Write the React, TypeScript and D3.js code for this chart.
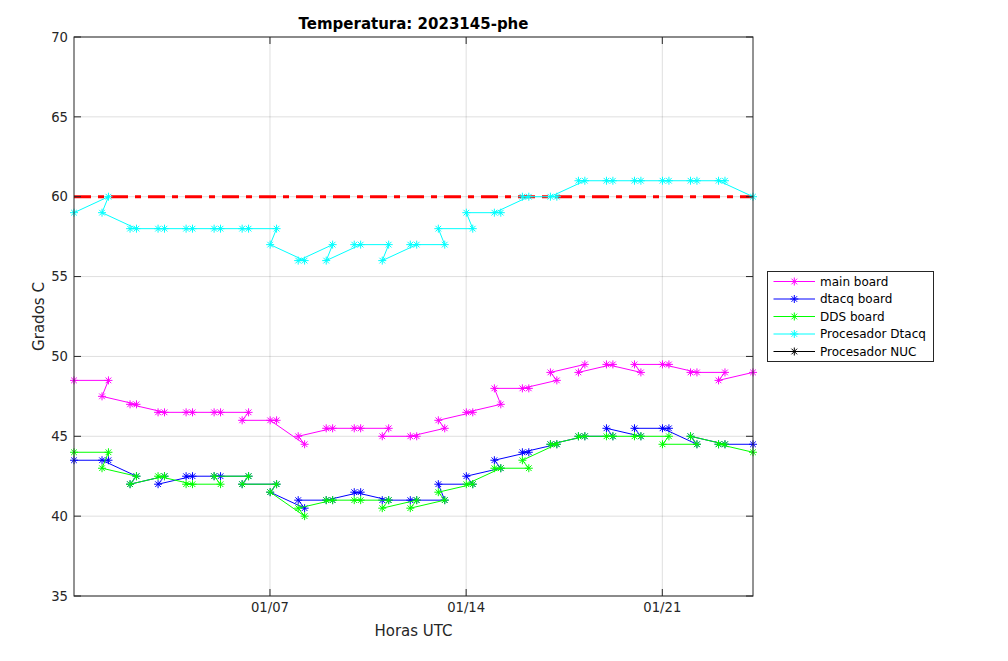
import React from "react";
import * as d3 from "d3";

// Sample timestamps (UTC), in the order they were recorded in the file
const times = [
  "2023-12-31 00:10",
  "2024-01-01 05:40", "2024-01-01 00:10",
  "2024-01-02 05:40", "2024-01-02 00:10",
  "2024-01-03 05:40", "2024-01-03 00:10",
  "2024-01-04 05:40", "2024-01-04 00:10",
  "2024-01-05 05:40", "2024-01-05 00:10",
  "2024-01-06 05:40", "2024-01-06 00:10",
  "2024-01-07 05:40", "2024-01-07 00:10",
  "2024-01-08 05:40", "2024-01-08 00:10",
  "2024-01-09 05:40", "2024-01-09 00:10",
  "2024-01-10 05:40", "2024-01-10 00:10",
  "2024-01-11 05:40", "2024-01-11 00:10",
  "2024-01-12 05:40", "2024-01-12 00:10",
  "2024-01-13 05:40", "2024-01-13 00:10",
  "2024-01-14 05:40", "2024-01-14 00:10",
  "2024-01-15 05:40", "2024-01-15 00:10",
  "2024-01-16 05:40", "2024-01-16 00:10",
  "2024-01-17 05:40", "2024-01-17 00:10",
  "2024-01-18 05:40", "2024-01-18 00:10",
  "2024-01-19 05:40", "2024-01-19 00:10",
  "2024-01-20 05:40", "2024-01-20 00:10",
  "2024-01-21 05:40", "2024-01-21 00:10",
  "2024-01-22 05:40", "2024-01-22 00:10",
  "2024-01-23 05:40", "2024-01-23 00:10",
  "2024-01-24 05:40",
];

const mainBoard = [
  48.5,
  48.5, 47.5, 47, 47, 46.5, 46.5, 46.5, 46.5, 46.5, 46.5, 46.5, 46,
  46, 46, 44.5, 45, 45.5, 45.5, 45.5, 45.5, 45.5, 45, 45, 45,
  45.5, 46, 46.5, 46.5, 47, 48, 48, 48, 48.5, 49, 49.5, 49,
  49.5, 49.5, 49, 49.5, 49.5, 49.5, 49, 49, 49, 48.5,
  49,
];

const dtacqBoard = [
  43.5,
  43.5, 43.5, 42.5, 42, 42.5, 42, 42.5, 42.5, 42.5, 42.5, 42.5, 42,
  42, 41.5, 40.5, 41, 41, 41, 41.5, 41.5, 41, 41, 41, 41,
  41, 42, 42, 42.5, 43, 43.5, 44, 44, 44.5, 44.5, 45, 45,
  45, 45.5, 45, 45.5, 45.5, 45.5, 44.5, 45, 44.5, 44.5,
  44.5,
];

const ddsBoard = [
  44,
  44, 43, 42.5, 42, 42.5, 42.5, 42, 42, 42, 42.5, 42.5, 42,
  42, 41.5, 40, 40.5, 41, 41, 41, 41, 41, 40.5, 41, 40.5,
  41, 41.5, 42, 42, 43, 43, 43, 43.5, 44.5, 44.5, 45, 45,
  45, 45, 45, 45, 45, 44.5, 44.5, 45, 44.5, 44.5,
  44,
];

const procesadorDtacq = [
  59,
  60, 59, 58, 58, 58, 58, 58, 58, 58, 58, 58, 58,
  58, 57, 56, 56, 57, 56, 57, 57, 57, 56, 57, 57,
  57, 58, 58, 59, 59, 59, 60, 60, 60, 60, 61, 61,
  61, 61, 61, 61, 61, 61, 61, 61, 61, 61,
  60,
];

// No NUC readings in this file (only the legend entry is shown)
const procesadorNUC: number[] = [];

const seriesNames = ["main board", "dtacq board", "DDS board", "Procesador Dtacq", "Procesador NUC"];
const seriesColors = ["#ff00ff", "#0000ff", "#00ff00", "#00ffff", "#000000"];

const limitTemp = 60;
const yTicks = [35, 40, 45, 50, 55, 60, 65, 70];
const xTickDates = ["2024-01-07 00:00", "2024-01-14 00:00", "2024-01-21 00:00"];

const titleText = "Temperatura: 2023145-phe";
const xLabel = "Horas UTC";
const yLabel = "Grados C";

const W = 1008;
const H = 661;
const M = { left: 74, right: 753, top: 37, bottom: 596 };
const FONT = "'DejaVu Sans', sans-serif";
const AX = "#262626";

const parse = d3.utcParse("%Y-%m-%d %H:%M");
const fmt = d3.utcFormat("%m/%d");

const starPath = (r: number) => {
  const k = r * 0.7071;
  return `M${-r},0H${r}M0,${-r}V${r}M${-k},${-k}L${k},${k}M${-k},${k}L${k},${-k}`;
};

export default function App() {
  const dates = times.map((t) => parse(t) as Date);
  const x = d3
    .scaleUtc()
    .domain(d3.extent(dates) as [Date, Date])
    .range([M.left, M.right]);
  const y = d3.scaleLinear().domain([35, 70]).range([M.bottom, M.top]);

  const series = [mainBoard, dtacqBoard, ddsBoard, procesadorDtacq, procesadorNUC];

  const line = d3
    .line<number>()
    .x((_, i) => x(dates[i]))
    .y((v) => y(v));

  const tickLen = 7;
  const star = starPath(4);
  const xTicks = xTickDates.map((s) => parse(s) as Date);

  const legendX = 767.5;
  const legendY = 271.5;
  const legendW = 166;
  const legendH = 90;

  return (
    <svg
      width={W}
      height={H}
      style={{ position: "absolute", left: 0, top: 0, background: "#fff" }}
      fontFamily={FONT}
    >
      <rect x={0} y={0} width={W} height={H} fill="#ffffff" />
      <rect x={M.left} y={M.top} width={M.right - M.left} height={M.bottom - M.top} fill="#ffffff" />
      {/* grid */}
      <g stroke={AX} strokeOpacity={0.15} strokeWidth={1}>
        {yTicks.map((t) => (
          <line key={"gy" + t} x1={M.left} x2={M.right} y1={y(t)} y2={y(t)} />
        ))}
        {xTicks.map((d, i) => (
          <line key={"gx" + i} x1={x(d)} x2={x(d)} y1={M.top} y2={M.bottom} />
        ))}
      </g>
      <defs>
        <clipPath id="plotClip">
          <rect x={M.left - 6} y={M.top - 6} width={M.right - M.left + 12} height={M.bottom - M.top + 12} />
        </clipPath>
      </defs>
      <g clipPath="url(#plotClip)">
        {/* limit line */}
        <line
          x1={M.left}
          x2={M.right}
          y1={y(limitTemp)}
          y2={y(limitTemp)}
          stroke="#ff0000"
          strokeWidth={3}
          strokeDasharray="17,7,6,7"
        />
        {series.map((vals, si) =>
          vals.length ? (
            <g key={"s" + si}>
              <path d={line(vals) || ""} fill="none" stroke={seriesColors[si]} strokeWidth={1} />
              {vals.map((v, i) => (
                <path
                  key={i}
                  d={star}
                  transform={`translate(${x(dates[i])},${y(v)})`}
                  stroke={seriesColors[si]}
                  strokeWidth={1}
                  fill="none"
                />
              ))}
            </g>
          ) : null
        )}
      </g>
      {/* axes box */}
      <rect
        x={M.left}
        y={M.top}
        width={M.right - M.left}
        height={M.bottom - M.top}
        fill="none"
        stroke={AX}
        strokeWidth={1}
      />
      {/* ticks */}
      <g stroke={AX} strokeWidth={1}>
        {yTicks.map((t) => (
          <g key={"ty" + t}>
            <line x1={M.left} x2={M.left + tickLen} y1={y(t)} y2={y(t)} />
            <line x1={M.right} x2={M.right - tickLen} y1={y(t)} y2={y(t)} />
          </g>
        ))}
        {xTicks.map((d, i) => (
          <g key={"tx" + i}>
            <line x1={x(d)} x2={x(d)} y1={M.bottom} y2={M.bottom - tickLen} />
            <line x1={x(d)} x2={x(d)} y1={M.top} y2={M.top + tickLen} />
          </g>
        ))}
      </g>
      {/* tick labels */}
      <g fill={AX} fontSize={13.2}>
        {yTicks.map((t) => (
          <text key={"ly" + t} x={M.left - 6} y={y(t) + 4.7} textAnchor="end">
            {t}
          </text>
        ))}
        {xTicks.map((d, i) => (
          <text key={"lx" + i} x={x(d)} y={612} textAnchor="middle">
            {fmt(d)}
          </text>
        ))}
      </g>
      {/* labels */}
      <text x={(M.left + M.right) / 2} y={636} textAnchor="middle" fontSize={15} fill={AX}>
        {xLabel}
      </text>
      <text
        transform={`translate(43.5,${(M.top + M.bottom) / 2}) rotate(-90)`}
        textAnchor="middle"
        fontSize={15}
        fill={AX}
      >
        {yLabel}
      </text>
      <text
        x={(M.left + M.right) / 2}
        y={29}
        textAnchor="middle"
        fontSize={15}
        fontWeight="bold"
        fill="#000"
      >
        {titleText}
      </text>
      {/* legend */}
      <g>
        <rect x={legendX} y={legendY} width={legendW} height={legendH} fill="#fff" stroke={AX} strokeWidth={1} />
        {seriesNames.map((name, i) => {
          const ly = legendY + 10 + i * 17.5;
          return (
            <g key={"lg" + i}>
              <line x1={773.5} x2={815} y1={ly} y2={ly} stroke={seriesColors[i]} strokeWidth={1} />
              <path d={star} transform={`translate(794.3,${ly})`} stroke={seriesColors[i]} strokeWidth={1} fill="none" />
              <text x={820} y={ly + 4.3} fontSize={12} fill="#000">
                {name}
              </text>
            </g>
          );
        })}
      </g>
    </svg>
  );
}
